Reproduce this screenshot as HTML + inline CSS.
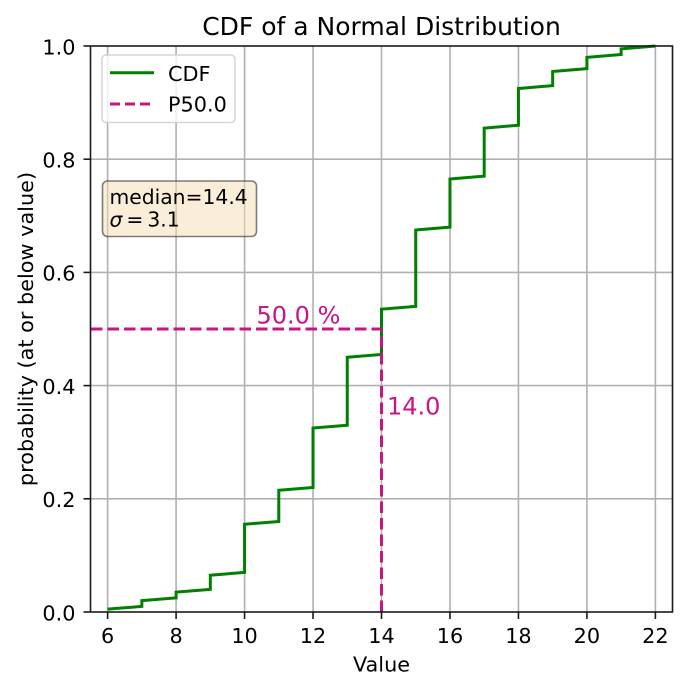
<!DOCTYPE html>
<html><head><meta charset="utf-8"><style>
html,body{margin:0;padding:0;background:#fff;}
svg{display:block;font-family:"DejaVu Sans","Liberation Sans",sans-serif;}
</style></head><body>
<svg width="687" height="690" viewBox="0 0 687 690" xmlns="http://www.w3.org/2000/svg">
<rect width="687" height="690" fill="#fff"/>
<!-- grid -->
<g stroke="#b0b0b0" stroke-width="1.6">
<line x1="107.62" y1="46" x2="107.62" y2="612"/>
<line x1="176.09" y1="46" x2="176.09" y2="612"/>
<line x1="244.56" y1="46" x2="244.56" y2="612"/>
<line x1="313.03" y1="46" x2="313.03" y2="612"/>
<line x1="381.50" y1="46" x2="381.50" y2="612"/>
<line x1="449.97" y1="46" x2="449.97" y2="612"/>
<line x1="518.44" y1="46" x2="518.44" y2="612"/>
<line x1="586.91" y1="46" x2="586.91" y2="612"/>
<line x1="655.38" y1="46" x2="655.38" y2="612"/>
<line x1="90.5" y1="498.8" x2="672.5" y2="498.8"/>
<line x1="90.5" y1="385.6" x2="672.5" y2="385.6"/>
<line x1="90.5" y1="272.4" x2="672.5" y2="272.4"/>
<line x1="90.5" y1="159.2" x2="672.5" y2="159.2"/>
</g>
<!-- CDF -->
<polyline fill="none" stroke="#008000" stroke-width="3" stroke-linejoin="miter" points="107.62,609.17 141.85,606.34 141.85,600.68 176.09,597.85 176.09,592.19 210.32,589.36 210.32,575.21 244.56,572.38 244.56,524.27 278.79,521.44 278.79,490.31 313.03,487.48 313.03,428.05 347.26,425.22 347.26,357.3 381.5,354.47 381.5,309.19 415.73,306.36 415.73,229.95 449.97,227.12 449.97,179.01 484.2,176.18 484.2,128.07 518.44,125.24 518.44,88.45 552.67,85.62 552.67,71.47 586.91,68.64 586.91,57.32 621.14,54.49 621.14,48.83 655.38,46"/>
<!-- P50 lines -->
<g stroke="#c71585" stroke-width="3" stroke-dasharray="11.5 5" fill="none">
<line x1="91" y1="329" x2="381.5" y2="329"/>
<line x1="381.5" y1="612" x2="381.5" y2="329"/>
</g>
<text x="256.5" y="323.3" font-size="24" fill="#c71585">50.0 %</text>
<text x="387" y="414.3" font-size="24" fill="#c71585">14.0</text>
<!-- spines -->
<rect x="90.5" y="46" width="582" height="566" fill="none" stroke="#1a1a1a" stroke-width="1.6"/>
<!-- ticks -->
<g stroke="#1a1a1a" stroke-width="1.6">
<line x1="107.62" y1="612" x2="107.62" y2="619"/>
<line x1="176.09" y1="612" x2="176.09" y2="619"/>
<line x1="244.56" y1="612" x2="244.56" y2="619"/>
<line x1="313.03" y1="612" x2="313.03" y2="619"/>
<line x1="381.50" y1="612" x2="381.50" y2="619"/>
<line x1="449.97" y1="612" x2="449.97" y2="619"/>
<line x1="518.44" y1="612" x2="518.44" y2="619"/>
<line x1="586.91" y1="612" x2="586.91" y2="619"/>
<line x1="655.38" y1="612" x2="655.38" y2="619"/>
<line x1="83.5" y1="612" x2="90.5" y2="612"/>
<line x1="83.5" y1="498.8" x2="90.5" y2="498.8"/>
<line x1="83.5" y1="385.6" x2="90.5" y2="385.6"/>
<line x1="83.5" y1="272.4" x2="90.5" y2="272.4"/>
<line x1="83.5" y1="159.2" x2="90.5" y2="159.2"/>
<line x1="83.5" y1="46" x2="90.5" y2="46"/>
</g>
<g font-size="20.8" fill="#000" text-anchor="middle">
<text x="107.62" y="643">6</text>
<text x="176.09" y="643">8</text>
<text x="244.56" y="643">10</text>
<text x="313.03" y="643">12</text>
<text x="381.50" y="643">14</text>
<text x="449.97" y="643">16</text>
<text x="518.44" y="643">18</text>
<text x="586.91" y="643">20</text>
<text x="655.38" y="643">22</text>
</g>
<g font-size="20.8" fill="#000" text-anchor="end">
<text x="75.5" y="620.3">0.0</text>
<text x="75.5" y="507.1">0.2</text>
<text x="75.5" y="393.9">0.4</text>
<text x="75.5" y="280.7">0.6</text>
<text x="75.5" y="167.5">0.8</text>
<text x="75.5" y="54.3">1.0</text>
</g>
<text x="381.5" y="671.5" font-size="20.8" text-anchor="middle">Value</text>
<text transform="translate(33,329) rotate(-90)" font-size="20.8" text-anchor="middle">probability (at or below value)</text>
<text x="381.5" y="35" font-size="25" text-anchor="middle">CDF of a Normal Distribution</text>
<!-- legend -->
<rect x="102" y="55" width="133" height="67.5" rx="4" ry="4" fill="rgba(255,255,255,0.8)" stroke="rgba(204,204,204,0.8)" stroke-width="1.6"/>
<line x1="110" y1="72.7" x2="154" y2="72.7" stroke="#008000" stroke-width="3"/>
<line x1="110" y1="104" x2="154" y2="104" stroke="#c71585" stroke-width="3" stroke-dasharray="10 5"/>
<text x="168" y="81" font-size="20.8">CDF</text>
<text x="168" y="111.7" font-size="20.8">P50.0</text>
<!-- text box -->
<rect x="102.5" y="181" width="154" height="55.5" rx="5" ry="5" fill="rgba(245,222,179,0.5)" stroke="rgba(0,0,0,0.5)" stroke-width="1.6"/>
<text x="109.5" y="204" font-size="20.3">median=14.4</text>
<text x="109.5" y="226.7" font-size="20.3"><tspan font-style="italic">σ</tspan><tspan dx="4">=</tspan><tspan dx="4">3.1</tspan></text>
</svg>
</body></html>
